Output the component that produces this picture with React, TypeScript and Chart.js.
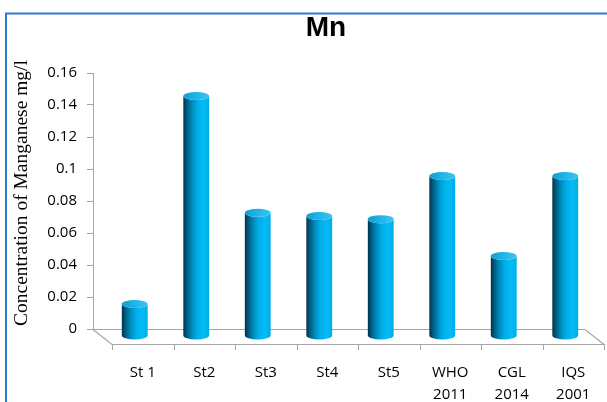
import { useEffect, useRef } from "react";
import { Chart, registerables } from "chart.js";

Chart.register(...registerables);

// Sampling stations and guideline limits
const categories: (string | string[])[] = [
  "St 1",
  "St2",
  "St3",
  "St4",
  "St5",
  ["WHO", "2011"],
  ["CGL", "2014"],
  ["IQS", "2001"],
];

// Manganese concentration (mg/l)
const manganese: number[] = [0.02, 0.15, 0.077, 0.075, 0.073, 0.1, 0.05, 0.1];

const yMin = 0;
const yMax = 0.16;
const yStep = 0.02;

const chartTitle = "Mn";
const yAxisTitle = "Concentration of Manganese mg/l";

// Pseudo-3D offsets: bars stand mid-depth, floor front edge at full depth
const BAR_DX = 11;
const BAR_DY = 7;
const FLOOR_DX = 19;
const FLOOR_DY = 15;
const CAP_RY = 4;

const AXIS_GRAY = "#a6a6a6";

const depthPlugin = {
  id: "depth3d",
  beforeDraw(chart: any) {
    const ctx: CanvasRenderingContext2D = chart.ctx;
    const { width, height } = chart;
    ctx.save();
    // outer frame (left and top edges)
    ctx.strokeStyle = "#2e7ccf";
    ctx.lineWidth = 2;
    ctx.beginPath();
    ctx.moveTo(6, height);
    ctx.lineTo(6, 13.5);
    ctx.lineTo(width, 13.5);
    ctx.stroke();

    // chart title
    ctx.fillStyle = "#000";
    ctx.font = "bold 28px 'Liberation Sans', Arial, sans-serif";
    ctx.textAlign = "center";
    ctx.textBaseline = "middle";
    ctx.fillText(chartTitle, 326, 28);

    // vertical axis title
    ctx.translate(22, 193);
    ctx.rotate(-Math.PI / 2);
    ctx.font = "19.5px 'Liberation Serif', 'Times New Roman', serif";
    ctx.fillText(yAxisTitle, 0, 0);
    ctx.restore();
  },
  beforeDatasetsDraw(chart: any) {
    const ctx: CanvasRenderingContext2D = chart.ctx;
    const { left, right, bottom } = chart.chartArea;
    const xScale = chart.scales.x;
    ctx.save();
    ctx.strokeStyle = AXIS_GRAY;
    ctx.lineWidth = 1.2;
    // floor outline
    ctx.beginPath();
    ctx.moveTo(left, bottom + 0.5);
    ctx.lineTo(right, bottom + 0.5);
    ctx.lineTo(right + FLOOR_DX, bottom + FLOOR_DY + 0.5);
    ctx.lineTo(left + FLOOR_DX, bottom + FLOOR_DY + 0.5);
    ctx.closePath();
    ctx.stroke();
    // category separators on the front edge
    ctx.lineWidth = 1;
    ctx.beginPath();
    for (let i = 0; i <= categories.length; i++) {
      const px = Math.round(xScale.getPixelForValue(i - 0.5) + FLOOR_DX) + 0.5;
      ctx.moveTo(px, bottom + FLOOR_DY);
      ctx.lineTo(px, bottom + FLOOR_DY + 6);
    }
    ctx.stroke();
    ctx.restore();
  },
  beforeDatasetDraw() {
    return false;
  },
  afterDatasetsDraw(chart: any) {
    const ctx: CanvasRenderingContext2D = chart.ctx;
    const meta = chart.getDatasetMeta(0);
    ctx.save();
    meta.data.forEach((bar: any) => {
      const { x, y, base, width } = bar.getProps(["x", "y", "base", "width"], true);
      const cx = x + BAR_DX;
      const rx = width / 2;
      const top = y + BAR_DY;
      const bot = base + BAR_DY;

      const body = ctx.createLinearGradient(cx - rx, 0, cx + rx, 0);
      body.addColorStop(0, "#00324a");
      body.addColorStop(0.12, "#00577a");
      body.addColorStop(0.35, "#008fc2");
      body.addColorStop(0.55, "#00afe9");
      body.addColorStop(0.8, "#06bbf5");
      body.addColorStop(1, "#00ade6");

      ctx.beginPath();
      ctx.moveTo(cx - rx, top);
      ctx.lineTo(cx - rx, bot);
      ctx.ellipse(cx, bot, rx, CAP_RY, 0, Math.PI, 0, true);
      ctx.lineTo(cx + rx, top);
      ctx.ellipse(cx, top, rx, CAP_RY, 0, 0, Math.PI, false);
      ctx.closePath();
      ctx.fillStyle = body;
      ctx.fill();

      const cap = ctx.createLinearGradient(cx - rx, 0, cx + rx, 0);
      cap.addColorStop(0, "#0d9fd3");
      cap.addColorStop(0.5, "#22b4e6");
      cap.addColorStop(1, "#3ec4f0");
      ctx.beginPath();
      ctx.ellipse(cx, top, rx, CAP_RY, 0, 0, Math.PI * 2);
      ctx.fillStyle = cap;
      ctx.fill();
    });
    ctx.restore();
  },
};

const tickFont = { family: "'Open Sans', 'Noto Sans', sans-serif", size: 15 };

export default function App() {
  const canvasRef = useRef<HTMLCanvasElement | null>(null);

  useEffect(() => {
    const canvas = canvasRef.current;
    if (!canvas) return;
    const chart = new Chart(canvas, {
      type: "bar",
      data: {
        labels: categories,
        datasets: [
          {
            label: chartTitle,
            data: manganese,
            backgroundColor: "#00b0f0",
            categoryPercentage: 1,
            barPercentage: 0.42,
          },
        ],
      },
      options: {
        responsive: false,
        animation: false,
        devicePixelRatio: 1,
        layout: { padding: { left: 0, right: 22, top: 73, bottom: 0 } },
        plugins: {
          legend: { display: false },
          tooltip: { enabled: false },
          title: { display: false },
        },
        scales: {
          x: {
            type: "category",
            grid: { display: false, drawTicks: false },
            border: { display: false },
            ticks: {
              autoSkip: false,
              maxRotation: 0,
              labelOffset: FLOOR_DX,
              padding: 33,
              color: "#000",
              font: { ...tickFont, lineHeight: 1.44 },
            },
            afterFit: (s: any) => {
              s.height = 73;
            },
          },
          y: {
            min: yMin,
            max: yMax,
            ticks: {
              stepSize: yStep,
              padding: 10,
              color: "#000",
              font: tickFont,
              callback: (v: any) => String(Number(Number(v).toFixed(2))),
            },
            grid: {
              drawOnChartArea: false,
              drawTicks: true,
              tickLength: 6,
              color: AXIS_GRAY,
            },
            border: { color: AXIS_GRAY },
            afterFit: (s: any) => {
              s.width = 93;
            },
          },
        },
      } as any,
      plugins: [depthPlugin as any],
    });
    return () => chart.destroy();
  }, []);

  return (
    <div style={{ position: "fixed", left: 0, top: 0, width: 607, height: 402, background: "#fff" }}>
      <canvas ref={canvasRef} width={607} height={402} style={{ display: "block" }} />
    </div>
  );
}
